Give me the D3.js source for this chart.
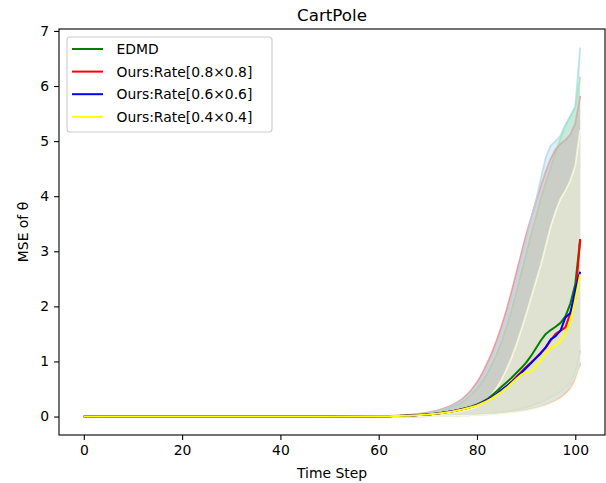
<!DOCTYPE html>
<html><head><meta charset="utf-8">
<script src="https://cdn.jsdelivr.net/npm/d3@7/dist/d3.min.js"></script>
<style>
html,body{margin:0;padding:0;background:#fff;}
text{font-family:"DejaVu Sans",sans-serif;}
</style></head>
<body><svg id="chart" width="606" height="483"></svg>
<script>
// ---- data ----
const title = "CartPole";
const xLabel = "Time Step";
const yLabel = "MSE of θ";
const xTicks = [0, 20, 40, 60, 80, 100];
const yTicks = [0, 1, 2, 3, 4, 5, 6, 7];
const seriesNames = ["EDMD", "Ours:Rate[0.8×0.8]", "Ours:Rate[0.6×0.6]", "Ours:Rate[0.4×0.4]"];

const steps = [0,10,20,30,40,50,
 60,61,62,63,64,65,66,67,68,69,70,71,72,73,74,75,76,77,78,79,
 80,81,82,83,84,85,86,87,88,89,90,91,92,93,94,95,96,97,98,99,100,101];

const edmdMean = [0,0,0,0,0,0,
 0.004,0.005,0.007,0.009,0.011,0.014,0.017,0.021,0.026,0.032,0.039,0.047,0.057,0.068,0.082,0.098,0.116,0.137,0.16,0.186,
 0.22,0.26,0.31,0.38,0.46,0.54,0.62,0.7,0.79,0.88,0.98,1.1,1.24,1.38,1.5,1.57,1.63,1.7,1.82,2.05,2.4,3.22];
const rate08Mean = [0,0,0,0,0,0,
 0.004,0.005,0.007,0.009,0.011,0.014,0.017,0.021,0.026,0.032,0.039,0.047,0.057,0.068,0.081,0.096,0.113,0.133,0.155,0.18,
 0.21,0.25,0.3,0.35,0.41,0.48,0.55,0.63,0.72,0.81,0.9,0.98,1.07,1.16,1.25,1.38,1.5,1.56,1.62,1.88,2.15,3.22];
const rate06Mean = [0,0,0,0,0,0,
 0.004,0.005,0.007,0.009,0.011,0.014,0.017,0.021,0.026,0.032,0.039,0.047,0.057,0.068,0.081,0.096,0.113,0.133,0.155,0.18,
 0.21,0.25,0.3,0.35,0.41,0.48,0.55,0.62,0.7,0.79,0.88,0.97,1.06,1.15,1.26,1.4,1.46,1.56,1.8,1.88,2.3,2.63];
const rate04Mean = [0,0,0,0,0,0,
 0.004,0.005,0.006,0.008,0.01,0.013,0.016,0.02,0.025,0.031,0.037,0.045,0.054,0.065,0.078,0.092,0.109,0.128,0.15,0.174,
 0.2,0.24,0.28,0.33,0.39,0.45,0.52,0.6,0.68,0.76,0.8,0.82,0.92,1.02,1.14,1.24,1.29,1.37,1.52,1.7,2.12,2.58];

const edmdUpper = [0,0,0,0,0,0,
 0.005,0.007,0.009,0.012,0.015,0.02,0.025,0.032,0.04,0.05,0.063,0.078,0.096,0.118,0.145,0.177,0.215,0.265,0.33,0.41,
 0.5,0.62,0.77,0.94,1.13,1.36,1.62,1.92,2.25,2.6,2.95,3.3,3.62,3.95,4.25,4.52,4.8,5.05,5.28,5.45,5.62,6.17];
const rate08Upper = [0,0,0,0,0,0,
 0.006,0.008,0.011,0.014,0.018,0.023,0.029,0.037,0.047,0.059,0.074,0.092,0.114,0.14,0.17,0.21,0.26,0.32,0.4,0.5,
 0.62,0.77,0.95,1.15,1.38,1.64,1.93,2.25,2.6,2.95,3.3,3.6,3.9,4.18,4.45,4.68,4.85,4.95,5.02,5.12,5.32,5.82];
const rate06Upper = [0,0,0,0,0,0,
 0.006,0.008,0.01,0.013,0.017,0.022,0.028,0.035,0.044,0.055,0.069,0.086,0.106,0.13,0.16,0.195,0.24,0.3,0.37,0.46,
 0.57,0.71,0.88,1.07,1.29,1.54,1.82,2.13,2.48,2.85,3.22,3.58,3.92,4.32,4.7,4.92,5.0,5.1,5.3,5.45,5.62,6.7];
const rate04Upper = [0,0,0,0,0,0,
 0.003,0.004,0.005,0.006,0.008,0.01,0.012,0.015,0.018,0.022,0.027,0.033,0.04,0.048,0.058,0.07,0.085,0.1,0.12,0.145,
 0.18,0.23,0.3,0.4,0.52,0.67,0.85,1.06,1.3,1.57,1.85,2.15,2.45,2.75,3.1,3.45,3.72,3.95,4.1,4.28,4.55,5.2];

const edmdLower = [0,0,0,0,0,0,
 0.001,0.001,0.002,0.002,0.003,0.003,0.004,0.005,0.006,0.007,0.008,0.01,0.012,0.014,0.016,0.019,0.022,0.025,0.029,0.032,
 0.035,0.042,0.05,0.06,0.07,0.082,0.095,0.11,0.13,0.15,0.17,0.2,0.23,0.26,0.3,0.35,0.4,0.46,0.53,0.62,0.8,1.2];
const rate08Lower = [0,0,0,0,0,0,
 0.001,0.001,0.001,0.002,0.002,0.002,0.003,0.003,0.004,0.005,0.006,0.007,0.008,0.01,0.012,0.014,0.017,0.02,0.023,0.027,
 0.03,0.035,0.04,0.047,0.055,0.062,0.07,0.08,0.09,0.105,0.12,0.14,0.16,0.19,0.22,0.26,0.3,0.35,0.42,0.52,0.68,0.96];
const rate06Lower = [0,0,0,0,0,0,
 0.001,0.001,0.001,0.002,0.002,0.002,0.003,0.003,0.004,0.005,0.006,0.007,0.008,0.01,0.012,0.014,0.017,0.02,0.023,0.027,
 0.03,0.036,0.042,0.05,0.058,0.066,0.075,0.085,0.095,0.11,0.125,0.145,0.165,0.195,0.23,0.27,0.32,0.38,0.46,0.57,0.74,0.98];
const rate04Lower = [0,0,0,0,0,0,
 0.001,0.001,0.001,0.001,0.002,0.002,0.002,0.003,0.003,0.004,0.004,0.005,0.006,0.007,0.008,0.01,0.012,0.014,0.016,0.018,
 0.02,0.025,0.03,0.035,0.04,0.047,0.055,0.065,0.075,0.087,0.1,0.12,0.14,0.165,0.19,0.22,0.26,0.31,0.38,0.47,0.62,0.88];

const lineColors = ["#008000", "#ff0000", "#0000ff", "#ffff00"];
const bandColors = ["#90ee90", "#f08080", "#add8e6", "#ffffe0"];

// ---- layout ----
const svg = d3.select("#chart");
const plot = {left: 59, right: 605, top: 29, bottom: 435};
const x = d3.scaleLinear().domain([-5.05, 106.05]).range([plot.left, plot.right]);
const y = d3.scaleLinear().domain([-0.335, 7.035]).range([plot.bottom, plot.top]);

const series = [
  {name: seriesNames[0], mean: edmdMean, lo: edmdLower, hi: edmdUpper},
  {name: seriesNames[1], mean: rate08Mean, lo: rate08Lower, hi: rate08Upper},
  {name: seriesNames[2], mean: rate06Mean, lo: rate06Lower, hi: rate06Upper},
  {name: seriesNames[3], mean: rate04Mean, lo: rate04Lower, hi: rate04Upper}
].map((s, i) => ({...s, line: lineColors[i], band: bandColors[i],
   pts: steps.map((t, j) => ({t, m: s.mean[j], lo: s.lo[j], hi: s.hi[j]}))}));

svg.append("defs").append("clipPath").attr("id", "clip")
  .append("rect").attr("x", plot.left).attr("y", plot.top)
  .attr("width", plot.right - plot.left).attr("height", plot.bottom - plot.top);

const g = svg.append("g").attr("clip-path", "url(#clip)");
const area = d3.area().x(d => x(d.t)).y0(d => y(d.lo)).y1(d => y(d.hi));
const upLine = d3.line().x(d => x(d.t)).y(d => y(d.hi));
const loLine = d3.line().x(d => x(d.t)).y(d => y(d.lo));
const meanLine = d3.line().x(d => x(d.t)).y(d => y(d.m));

series.forEach(s => {
  const bg = g.append("g");
  bg.append("path").datum(s.pts).attr("d", area).attr("fill", s.band).attr("fill-opacity", 0.4);
  bg.append("path").datum(s.pts).attr("d", upLine).attr("fill", "none")
    .attr("stroke", s.band).attr("stroke-opacity", 0.75).attr("stroke-width", 1.8);
  bg.append("path").datum(s.pts).attr("d", loLine).attr("fill", "none")
    .attr("stroke", s.band).attr("stroke-opacity", 0.75).attr("stroke-width", 1.8);
});
series.forEach(s => {
  g.append("path").datum(s.pts).attr("d", meanLine).attr("fill", "none")
    .attr("stroke", s.line).attr("stroke-width", 2).attr("stroke-linejoin", "round");
});

// ---- axes ----
const xAxis = svg.append("g").attr("transform", `translate(0,${plot.bottom})`)
  .call(d3.axisBottom(x).tickValues(xTicks).tickSize(4.9).tickPadding(4.9).tickFormat(d3.format("d")));
const yAxis = svg.append("g").attr("transform", `translate(${plot.left},0)`)
  .call(d3.axisLeft(y).tickValues(yTicks).tickSize(4.9).tickPadding(4.9).tickFormat(d3.format("d")));
[xAxis, yAxis].forEach(a => {
  a.select(".domain").remove();
  a.selectAll(".tick line").attr("stroke", "#000").attr("stroke-width", 1.1);
  a.selectAll(".tick text").attr("font-family", "DejaVu Sans").attr("font-size", 13.9).attr("fill", "#000");
});
svg.append("rect").attr("x", plot.left).attr("y", plot.top)
  .attr("width", plot.right - plot.left).attr("height", plot.bottom - plot.top)
  .attr("fill", "none").attr("stroke", "#000").attr("stroke-width", 1.1);

svg.append("text").attr("x", (plot.left + plot.right) / 2).attr("y", 20.5)
  .attr("text-anchor", "middle").attr("font-size", 16.7).text(title);
svg.append("text").attr("x", (plot.left + plot.right) / 2).attr("y", 478)
  .attr("text-anchor", "middle").attr("font-size", 13.9).text(xLabel);
svg.append("text").attr("transform", `translate(28,${(plot.top + plot.bottom) / 2}) rotate(-90)`)
  .attr("text-anchor", "middle").attr("font-size", 13.9).text(yLabel);

// ---- legend ----
const lg = svg.append("g");
lg.append("rect").attr("x", 67).attr("y", 37).attr("width", 205).attr("height", 95)
  .attr("rx", 3).attr("fill", "#fff").attr("fill-opacity", 0.8)
  .attr("stroke", "#cccccc").attr("stroke-width", 1.1);
series.forEach((s, i) => {
  const yy = 49 + i * 22.6;
  lg.append("line").attr("x1", 72).attr("x2", 103).attr("y1", yy).attr("y2", yy)
    .attr("stroke", s.line).attr("stroke-width", 2);
  lg.append("text").attr("x", 116.5).attr("y", yy + 5).attr("font-size", 13.9).text(s.name);
});
</script></body></html>
